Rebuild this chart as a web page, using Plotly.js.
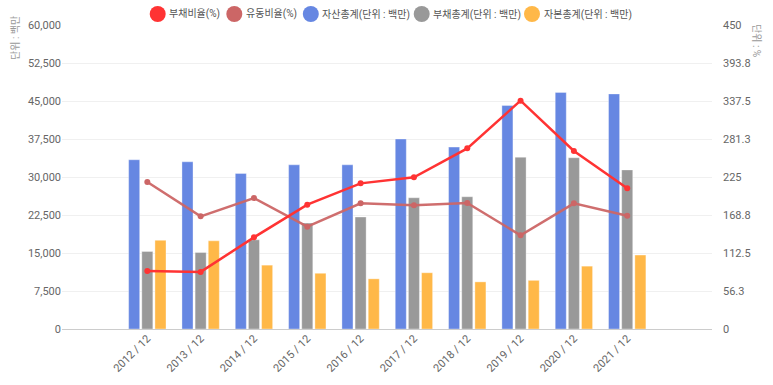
<!DOCTYPE html>
<html>
<head>
<meta charset="utf-8">
<script src="https://cdn.plot.ly/plotly-3.0.1.min.js"></script>
<style>html,body{margin:0;padding:0;background:#fff;}#chart{width:773px;height:385px;}</style>
</head>
<body>
<div id="chart"></div>
<script>
const categories = ["2012 / 12","2013 / 12","2014 / 12","2015 / 12","2016 / 12","2017 / 12","2018 / 12","2019 / 12","2020 / 12","2021 / 12"];
const assets      = [33400, 33000, 30700, 32400, 32400, 37500, 35900, 44100, 46700, 46400];
const liabilities = [15300, 15100, 17600, 20900, 22100, 25900, 26100, 33900, 33800, 31400];
const equity      = [17500, 17400, 12600, 11000,  9900, 11100,  9300,  9600, 12400, 14600];
const debtRatio    = [86.0, 84.5, 135.7, 184.0, 215.6, 224.5, 267.4, 338.0, 263.5, 208.2];
const currentRatio = [217.6, 166.8, 193.9, 151.5, 186.0, 183.0, 186.5, 138.7, 186.0, 167.7];
const leftTicks = [0, 7500, 15000, 22500, 30000, 37500, 45000, 52500, 60000];
const rightTicks = [0, 56.25, 112.5, 168.75, 225, 281.25, 337.5, 393.75, 450];
const rightTickText = ["0","56.3","112.5","168.8","225","281.3","337.5","393.8","450"];
const legendNames = ["부채비율(%)","유동비율(%)","자산총계(단위 : 백만)","부채총계(단위 : 백만)","자본총계(단위 : 백만)"];

const cRed = "#ff3333", cBrown = "#cc6666", cBlue = "#6687e2", cGray = "#999999", cOrange = "#ffb848";
const colors = [cRed, cBrown, cBlue, cGray, cOrange];

const traces = [
  {type:"bar", x:categories, y:assets, name:legendNames[2], marker:{color:cBlue, line:{color:"rgba(255,255,255,0.35)", width:1}}, showlegend:false, hoverinfo:"y"},
  {type:"bar", x:categories, y:liabilities, name:legendNames[3], marker:{color:cGray, line:{color:"rgba(255,255,255,0.35)", width:1}}, showlegend:false, hoverinfo:"y"},
  {type:"bar", x:categories, y:equity, name:legendNames[4], marker:{color:cOrange, line:{color:"rgba(255,255,255,0.35)", width:1}}, showlegend:false, hoverinfo:"y"},
  {type:"scatter", mode:"lines+markers", x:categories, y:currentRatio, yaxis:"y2", name:legendNames[1], line:{color:"rgba(204,102,102,0.95)", width:2.5}, marker:{color:cBrown, size:6}, showlegend:false},
  {type:"scatter", mode:"lines+markers", x:categories, y:debtRatio, yaxis:"y2", name:legendNames[0], line:{color:cRed, width:2.5}, marker:{color:cRed, size:6}, showlegend:false}
];

// Custom legend (layout positions in pixels, converted to paper coordinates)
const M = {l:62, r:61, t:25, b:56};
const W = 773, H = 385;
const pw = W - M.l - M.r, ph = H - M.t - M.b;
const px2x = p => (p - M.l) / pw;
const py2y = p => (H - M.b - p) / ph;
const legendCircleX = [157.7, 234.3, 310.8, 421.7, 532];
const legendTextX = [166.5, 244, 320, 431, 542];
const legendY = 14;

const shapes = [];
const annotations = [];
legendNames.forEach((n, i) => {
  shapes.push({type:"circle", xref:"paper", yref:"paper", xsizemode:"pixel", ysizemode:"pixel",
    xanchor:px2x(legendCircleX[i]), yanchor:py2y(legendY), x0:-8, x1:8, y0:-8, y1:8,
    fillcolor:colors[i], line:{width:0}});
  annotations.push({text:n, xref:"paper", yref:"paper", x:px2x(legendTextX[i]), y:py2y(legendY),
    xanchor:"left", yanchor:"middle", showarrow:false, font:{size:10, color:"#555"}});
});
annotations.push({text:"단위 : 백만", xref:"paper", yref:"paper", x:px2x(15), y:py2y(38), textangle:-90, showarrow:false, font:{size:10, color:"#999"}, xanchor:"center", yanchor:"middle"});
annotations.push({text:"단위 : %", xref:"paper", yref:"paper", x:px2x(757), y:py2y(40), textangle:90, showarrow:false, font:{size:10, color:"#999"}, xanchor:"center", yanchor:"middle"});

const tickFont = {family:"Roboto, 'Noto Sans CJK KR', sans-serif", size:11, color:"#666"};
const layout = {
  width:W, height:H,
  margin:{l:M.l, r:M.r, t:M.t, b:M.b, autoexpand:false},
  paper_bgcolor:"#fff", plot_bgcolor:"#fff",
  font:{family:"Roboto, 'Noto Sans CJK KR', sans-serif", size:11, color:"#555"},
  barmode:"group", bargap:0.26, bargroupgap:0.16,
  showlegend:false,
  xaxis:{type:"category", range:[-1.6, 10.59], tickangle:-45, tickfont:tickFont, showgrid:false, showline:false, zeroline:false, ticks:"", fixedrange:true},
  yaxis:{range:[0, 60000], tickvals:leftTicks, tickformat:",", tickfont:tickFont, gridcolor:"#f0f0f0", zeroline:true, zerolinecolor:"#cccccc", zerolinewidth:1, showline:false, ticks:"", ticklen:0},
  yaxis2:{range:[0, 450], overlaying:"y", side:"right", tickvals:rightTicks, ticktext:rightTickText, tickfont:tickFont, showgrid:false, zeroline:false, showline:false, ticks:"", ticklabelstandoff:10},
  shapes:shapes,
  annotations:annotations
};
Plotly.newPlot("chart", traces, layout, {displayModeBar:false, staticPlot:true});
</script>
</body>
</html>
